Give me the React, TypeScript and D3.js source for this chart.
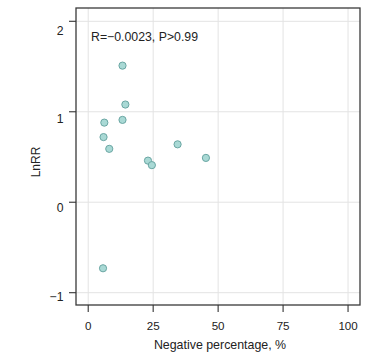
import React from "react";
import * as d3 from "d3";

const negativePct = [13.2, 14.3, 6.2, 13.2, 5.9, 8.1, 23.0, 24.5, 34.4, 45.3, 5.7];
const lnRR = [1.51, 1.08, 0.88, 0.91, 0.72, 0.59, 0.46, 0.41, 0.64, 0.49, -0.73];
const xTicks = [0, 25, 50, 75, 100];
const yTicks = [-1, 0, 1, 2];
const annotation = "R=\u22120.0023, P>0.99";
const xTitle = "Negative percentage, %";
const yTitle = "LnRR";

const W = 366, H = 352;
const left = 76, right = 360, top = 8, bottom = 305;

export default function App() {
  const x = d3.scaleLinear().domain([-4.7, 104.6]).range([left, right]);
  const y = d3.scaleLinear().domain([-1.136, 2.147]).range([bottom, top]);
  // tick labels sit slightly below their ticks, drifting as in the reference
  const labelOffset = d3.scaleLinear().domain([-1, 2]).range([3.7, 9]);
  const font = "Liberation Sans, Arial, Helvetica, sans-serif";
  const textColor = "#222";
  return (
    <svg width={W} height={H} style={{ position: "absolute", left: 0, top: 0, background: "#fff" }} fontFamily={font}>
      <rect x={left} y={top} width={right - left} height={bottom - top} fill="#fff" />
      {xTicks.map((t) => (
        <line key={"gx" + t} x1={x(t)} x2={x(t)} y1={top} y2={bottom} stroke="#e3e3e3" strokeWidth={1} />
      ))}
      {yTicks.map((t) => (
        <line key={"gy" + t} x1={left} x2={right} y1={y(t)} y2={y(t)} stroke="#e3e3e3" strokeWidth={1} />
      ))}
      {negativePct.map((v, i) => (
        <circle key={i} cx={x(v)} cy={y(lnRR[i])} r={3.6} fill="#a9d9d5" stroke="#6aa6a3" strokeWidth={1} />
      ))}
      <rect x={left} y={top} width={right - left} height={bottom - top} fill="none" stroke="#3a3a3a" strokeWidth={1.3} />
      {xTicks.map((t) => (
        <g key={"tx" + t}>
          <line x1={x(t)} x2={x(t)} y1={bottom} y2={bottom + 7} stroke="#333" strokeWidth={1.1} />
          <text x={x(t)} y={bottom + 25} textAnchor="middle" fontSize={11.6} fill={textColor}>{t}</text>
        </g>
      ))}
      {yTicks.map((t) => (
        <g key={"ty" + t}>
          <line x1={left - 7} x2={left} y1={y(t)} y2={y(t)} stroke="#333" strokeWidth={1.1} />
          <text x={left - 12.5} y={y(t) + labelOffset(t) + 4.4} textAnchor="end" fontSize={12.2} fill={textColor}>
            {t < 0 ? "\u2212" + Math.abs(t) : t}
          </text>
        </g>
      ))}
      <text x={91} y={40.7} fontSize={12.3} fill={textColor}>{annotation}</text>
      <text x={(left + right) / 2 + 2} y={349} textAnchor="middle" fontSize={12.4} fill={textColor}>{xTitle}</text>
      <text transform={`translate(40,162) rotate(-90)`} textAnchor="middle" fontSize={12} fill={textColor}>{yTitle}</text>
    </svg>
  );
}
